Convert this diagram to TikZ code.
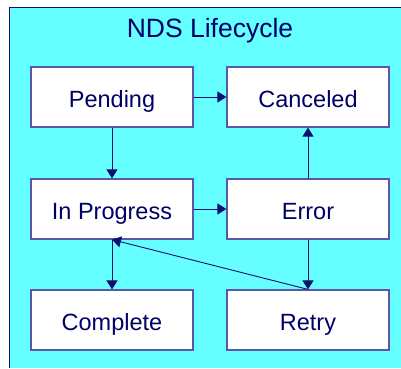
\documentclass[tikz,border=0pt]{standalone}
\usepackage{fontspec}
\setmainfont{Liberation Sans}
\usetikzlibrary{arrows.meta}
\definecolor{bgcyan}{HTML}{66FFFF}
\definecolor{navy}{HTML}{000066}
\definecolor{edge}{HTML}{101070}
\definecolor{boxline}{HTML}{5858A8}
\tikzset{
  statebox/.style={draw=boxline, line width=1.2pt, fill=white, minimum width=162pt, minimum height=60pt, inner sep=0pt, text=navy, text height=21pt, text depth=0pt, font=\fontsize{23.5}{28}\selectfont},
  conn/.style={draw=edge, line width=0.9pt, -{Triangle[width=11pt,length=9pt]}},
}
\begin{document}
\begin{tikzpicture}[x=1pt,y=1pt]
\useasboundingbox (0,0) rectangle (401,368);
\fill[bgcyan] (9,0) rectangle (401,361);
\draw[edge, line width=1pt] (9,0) -- (9,361) -- (401,361);
\node[text=navy, font=\fontsize{26.5}{31}\selectfont, text height=18pt, text depth=0pt, inner sep=0pt] (title) at (210,340) {NDS Lifecycle};
\node[statebox] (pending) at (112,271) {Pending};
\node[statebox] (canceled) at (308,271) {Canceled};
\node[statebox] (inprog) at (112,159) {In Progress};
\node[statebox] (error) at (308,159) {Error};
\node[statebox] (complete) at (112,48) {Complete};
\node[statebox] (retry) at (308,48) {Retry};
\draw[conn] (pending) -- (canceled);
\draw[conn] (pending) -- (inprog);
\draw[conn] (inprog) -- (error);
\draw[conn] (error) -- (canceled);
\draw[conn] (error) -- (retry);
\draw[conn] (inprog) -- (complete);
\draw[conn] (retry.north) -- (inprog.south);
\end{tikzpicture}
\end{document}
